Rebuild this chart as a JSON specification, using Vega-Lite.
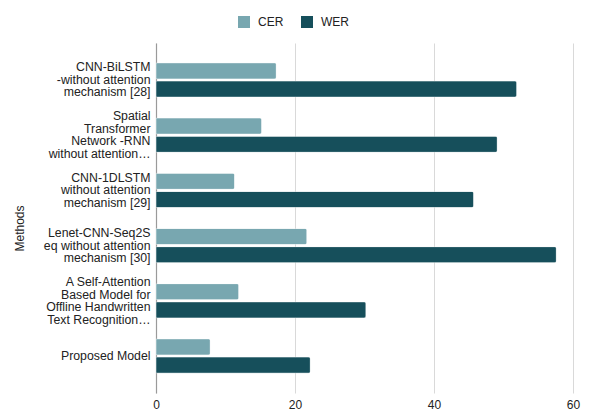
{
  "$schema": "https://vega.github.io/schema/vega-lite/v6.json",
  "width": 417,
  "height": 350,
  "autosize": {"type": "none"},
  "padding": {"left": 156, "top": 43, "right": 16, "bottom": 17},
  "background": "white",
  "config": {
    "font": "Liberation Sans",
    "view": {"stroke": null},
    "axis": {"labelFont": "Liberation Sans", "titleFont": "Liberation Sans"}
  },
  "data": {
    "values": [
      {"method": "CNN-BiLSTM\n-without attention\nmechanism [28]", "series": "CER", "value": 17.3},
      {"method": "CNN-BiLSTM\n-without attention\nmechanism [28]", "series": "WER", "value": 51.9},
      {"method": "Spatial\nTransformer\nNetwork -RNN\nwithout attention…", "series": "CER", "value": 15.2},
      {"method": "Spatial\nTransformer\nNetwork -RNN\nwithout attention…", "series": "WER", "value": 49.1},
      {"method": "CNN-1DLSTM\nwithout attention\nmechanism [29]", "series": "CER", "value": 11.3},
      {"method": "CNN-1DLSTM\nwithout attention\nmechanism [29]", "series": "WER", "value": 45.7},
      {"method": "Lenet-CNN-Seq2S\neq without attention\nmechanism [30]", "series": "CER", "value": 21.7},
      {"method": "Lenet-CNN-Seq2S\neq without attention\nmechanism [30]", "series": "WER", "value": 57.6},
      {"method": "A Self-Attention\nBased Model for\nOffline Handwritten\nText Recognition…", "series": "CER", "value": 11.9},
      {"method": "A Self-Attention\nBased Model for\nOffline Handwritten\nText Recognition…", "series": "WER", "value": 30.2},
      {"method": "Proposed Model", "series": "CER", "value": 7.8},
      {"method": "Proposed Model", "series": "WER", "value": 22.2}
    ]
  },
  "mark": {"type": "bar", "cornerRadiusEnd": 2, "stroke": "#ffffff", "strokeOpacity": 0.35, "strokeWidth": 0.8},
  "encoding": {
    "y": {
      "field": "method",
      "type": "nominal",
      "sort": null,
      "scale": {"paddingInner": 0.38, "paddingOuter": 0.36},
      "axis": {
        "title": "Methods",
        "titleFontSize": 12,
        "titleFontWeight": "normal",
        "titleColor": "#222222",
        "titleX": -130,
        "titleY": 185,
        "labelExpr": "split(datum.value, '\\n')",
        "labelFontSize": 12.3,
        "labelColor": "#222222",
        "labelLineHeight": 12.5,
        "labelPadding": 6,
        "labelLimit": 200,
        "labelOffset": {
          "condition": [
            {"test": "length(split(datum.value, '\\n')) == 4", "value": -18.75},
            {"test": "length(split(datum.value, '\\n')) == 1", "value": 0}
          ],
          "value": -12.5
        },
        "ticks": false,
        "domainColor": "#9a9a9a",
        "domainWidth": 1.2,
        "grid": false
      }
    },
    "yOffset": {"field": "series", "type": "nominal", "scale": {"paddingInner": 0.12}},
    "x": {
      "field": "value",
      "type": "quantitative",
      "scale": {"domain": [0, 60], "nice": false},
      "axis": {
        "title": null,
        "values": [0, 20, 40, 60],
        "labelFontSize": 12,
        "labelColor": "#222222",
        "labelPadding": 6,
        "labelFlush": false,
        "ticks": false,
        "domain": false,
        "grid": true,
        "gridColor": "#d9d9d9",
        "gridWidth": 1
      }
    },
    "color": {
      "field": "series",
      "type": "nominal",
      "scale": {"domain": ["CER", "WER"], "range": ["#78a7b0", "#164f5b"]},
      "legend": {
        "title": null,
        "orient": "none",
        "direction": "horizontal",
        "legendX": 82,
        "legendY": -27,
        "symbolType": "square",
        "symbolSize": 144,
        "symbolStrokeWidth": 0,
        "labelFontSize": 12,
        "labelColor": "#222222",
        "labelOffset": 8,
        "columnPadding": 17
      }
    }
  }
}
